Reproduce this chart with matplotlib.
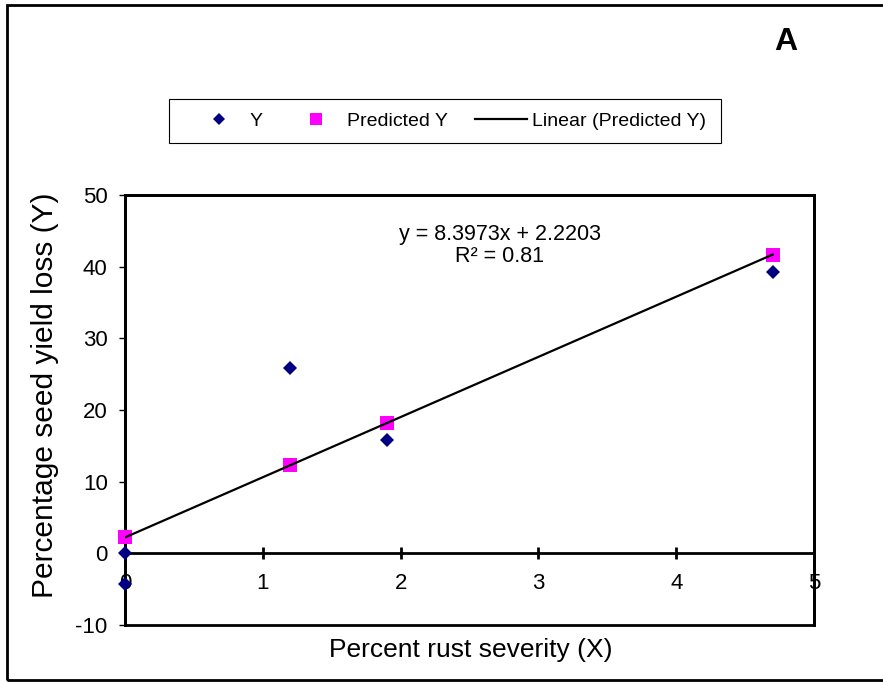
import matplotlib
matplotlib.use("Agg")
import matplotlib.pyplot as plt
from matplotlib.lines import Line2D
from matplotlib.patches import Rectangle

# Rust severity vs. seed yield loss
severity = [0, 0, 1.2, 1.9, 4.7]
yield_loss = [0, -4.3, 25.8, 15.8, 39.2]

# Values predicted by the regression
pred_severity = [0, 1.2, 1.9, 4.7]
pred_yield_loss = [2.22, 12.30, 18.18, 41.69]

# Fitted line parameters
slope = 8.3973
intercept = 2.2203
r_squared = 0.81

x_ticks = [0, 1, 2, 3, 4, 5]
y_ticks = [-10, 0, 10, 20, 30, 40, 50]

NAVY = "#000080"
MAGENTA = "#FF00FF"


def plot_regression(out_file):
    plt.rcParams["font.family"] = ["Liberation Sans", "DejaVu Sans"]
    plt.rcParams["axes.unicode_minus"] = False

    W, H = 883, 682
    fig = plt.figure(figsize=(W / 100, H / 100), dpi=100)
    ax = fig.add_axes([125 / W, 1 - 625 / H, 689 / W, 430 / H])

    # Plot box, with the x axis running through y = 0
    ax.patch.set_edgecolor("black")
    ax.patch.set_linewidth(2)
    for side in ["left", "top", "right", "bottom"]:
        ax.spines[side].set_linewidth(2)
    ax.spines["bottom"].set_position(("data", 0))

    ax.set_xlim(0, 5)
    ax.set_ylim(-10, 50)
    ax.set_xticks(x_ticks)
    ax.set_yticks(y_ticks)
    ax.tick_params(axis="x", direction="inout", length=8.5, width=2, pad=10, labelsize=16)
    ax.tick_params(axis="y", direction="out", length=4.5, width=1, pad=8, labelsize=16)

    # Predicted points, trend line, observed points
    ax.plot(pred_severity, pred_yield_loss, linestyle="none", marker="s", ms=10.5,
            color=MAGENTA, mew=0, clip_on=False, zorder=3)
    x_fit = [min(severity), max(severity)]
    y_fit = [slope * x + intercept for x in x_fit]
    ax.plot(x_fit, y_fit, color="black", lw=1.6, zorder=3.5)
    ax.plot(severity, yield_loss, linestyle="none", marker="D", ms=7.4,
            color=NAVY, mew=0, clip_on=False, zorder=4)

    ax.text(0.544, 0.883, f"y = {slope}x + {intercept}\nR² = {r_squared}",
            transform=ax.transAxes, ha="center", va="center", fontsize=15.5,
            multialignment="center", linespacing=1.1)

    ax.set_xlabel("Percent rust severity (X)", fontsize=19)
    ax.xaxis.label.set_va("center")
    ax.xaxis.set_label_coords(0.502, -0.058)
    ax.set_ylabel("Percentage seed yield loss (Y)", fontsize=21.5)
    ax.yaxis.label.set_va("center")
    ax.yaxis.set_label_coords(-0.1155, 0.535)

    # Legend entries drawn without a frame; the frame is added separately
    handles = [
        Line2D([], [], linestyle="none", marker="D", ms=6.5, color=NAVY, mew=0),
        Line2D([], [], linestyle="none", marker="s", ms=8.5, color=MAGENTA, mew=0),
        Line2D([], [], color="black", lw=1.6),
    ]
    labels = ["Y", "Predicted Y", "Linear (Predicted Y)"]
    fig.legend(handles, labels, loc="center", ncol=3, frameon=False, fontsize=14,
               bbox_to_anchor=(449.5 / W, 1 - 121 / H), handlelength=2.68,
               handletextpad=0.26, columnspacing=1.4, borderpad=0)
    fig.patches.append(Rectangle((169 / W, 1 - 143 / H), 552 / W, 44 / H,
                                 transform=fig.transFigure, fill=False,
                                 edgecolor="black", lw=0.8))

    fig.text(786 / W, 1 - 42 / H, "A", ha="center", va="center",
             fontsize=23, fontweight="bold")

    # Outer border around the whole chart
    fig.patches.append(Rectangle((7 / W, 2 / H), 1.05, (H - 7) / H,
                                 transform=fig.transFigure, fill=False,
                                 edgecolor="black", lw=2, clip_on=False))

    fig.savefig(out_file, dpi=100)


if __name__ == "__main__":
    plot_regression("out.png")
